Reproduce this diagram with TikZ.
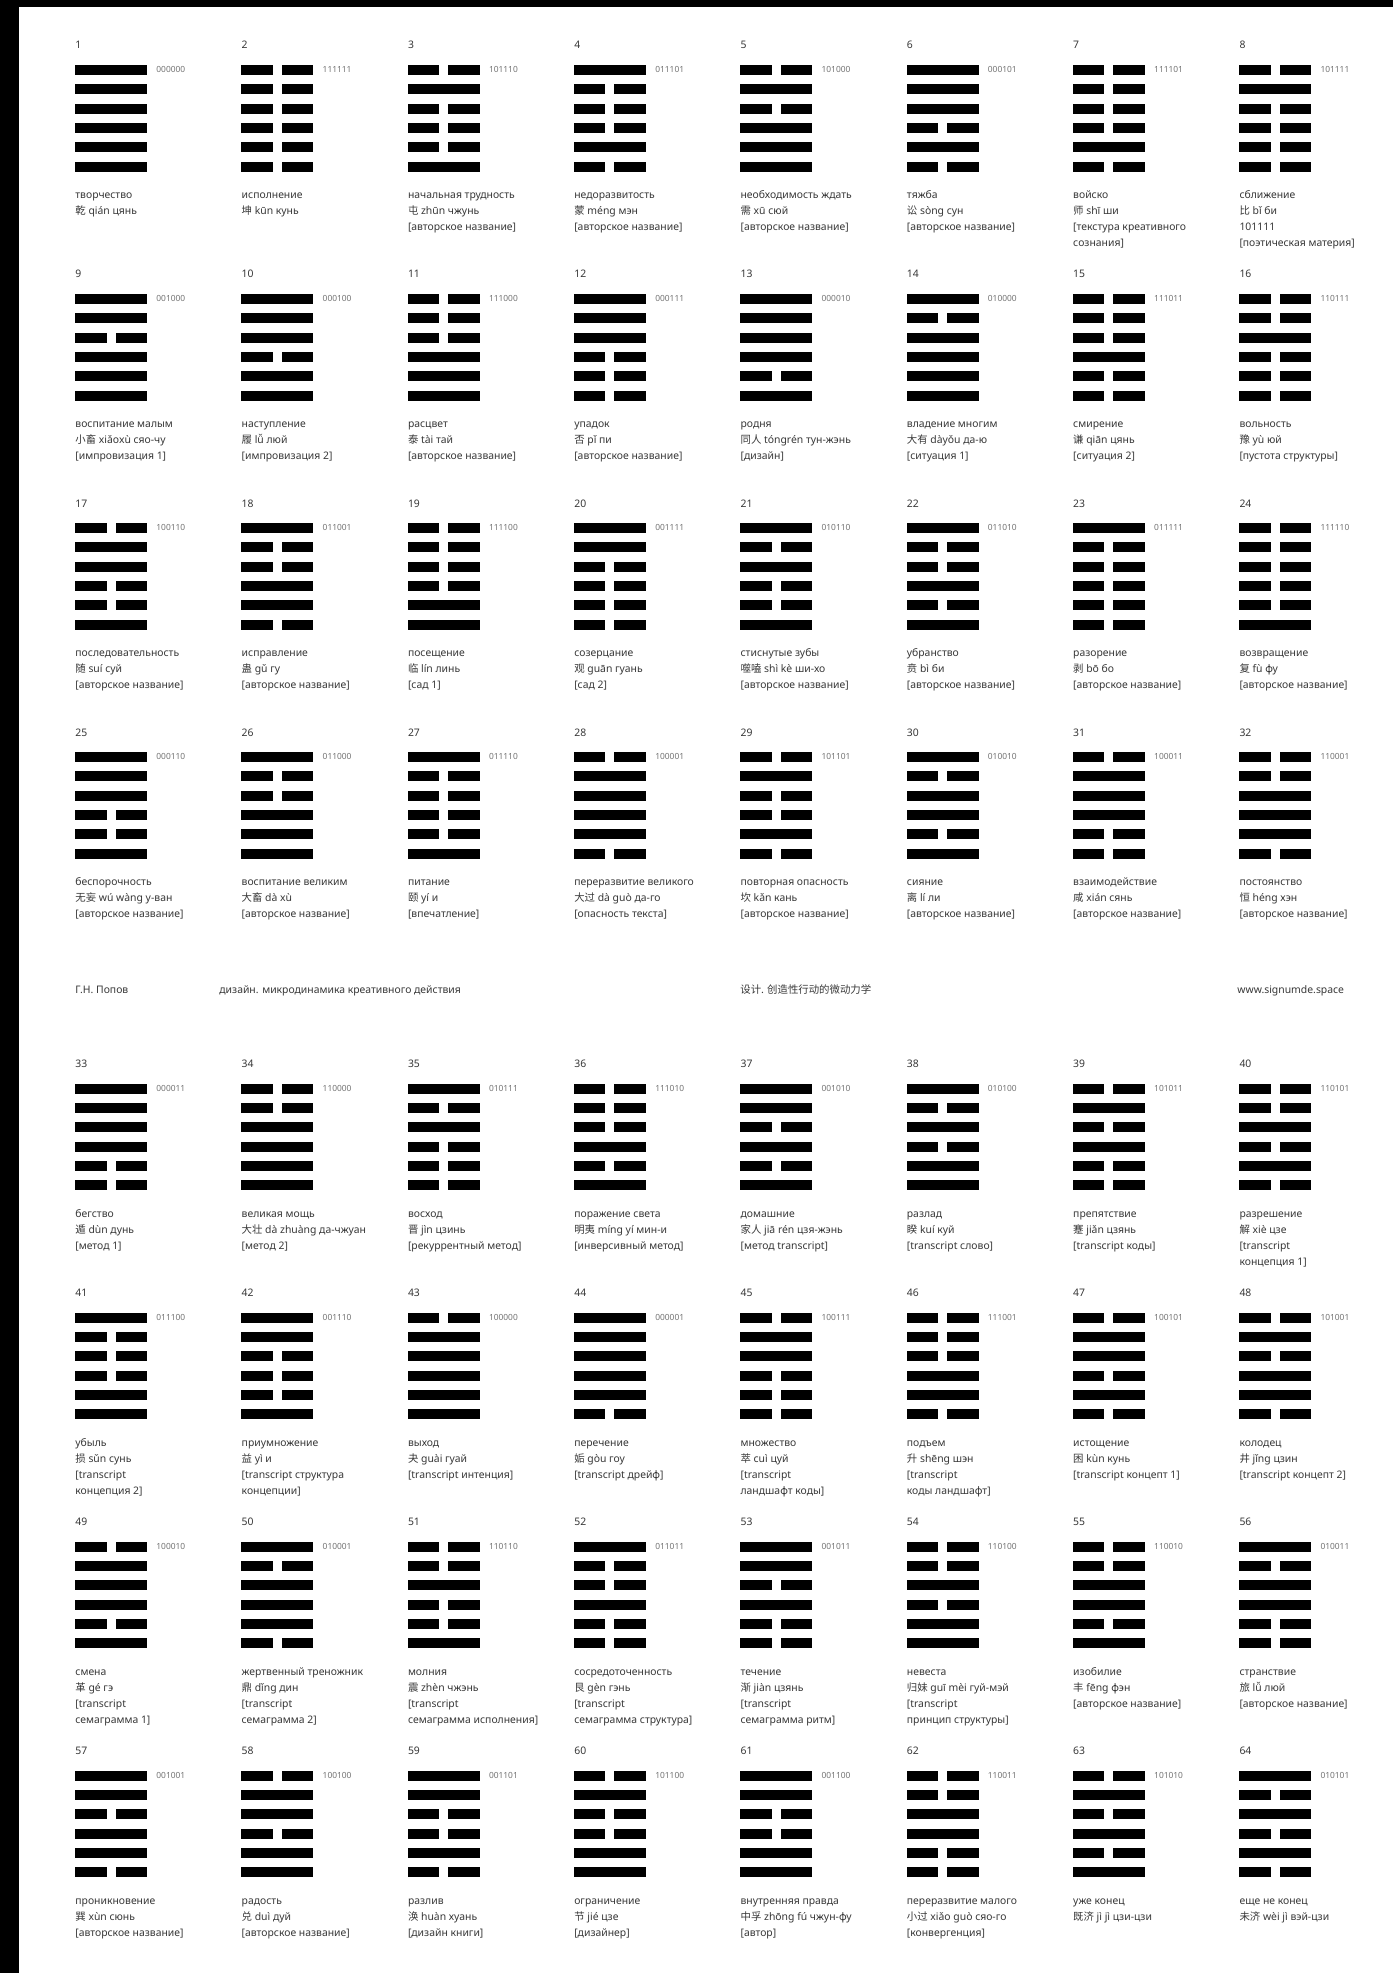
\documentclass[tikz,border=0pt]{standalone}
\usepackage{fontspec}
\setmainfont{Noto Sans}
\newfontfamily\cjkfont{Noto Sans CJK SC}
\newcommand\zh[1]{{\cjkfont #1}}
\tikzset{
  desc/.style={font=\fontsize{5.2pt}{7pt}\selectfont, text=black!78, inner sep=0pt, anchor=base west},
  numlab/.style={desc},
  codelab/.style={font=\fontsize{4.2pt}{5pt}\selectfont, text=black!55, inner sep=0pt, anchor=base west},
  hexfill/.style={fill=black},
}
\newcommand\hxl[2]{%
  \pgfmathsetmacro\hxLY{\hxY+23.5+19.33*#1}%
  \ifnum#2=0
    \fill[hexfill] (\hxX,\hxLY-5) rectangle ++(72,10);
  \else
    \fill[hexfill] (\hxX,\hxLY-5) rectangle ++(31.5,10);
    \fill[hexfill] (\hxX+40.5,\hxLY-5) rectangle ++(31.5,10);
  \fi}
\newcommand\hxlines[6]{\hxl{0}{#1}\hxl{1}{#2}\hxl{2}{#3}\hxl{3}{#4}\hxl{4}{#5}\hxl{5}{#6}}
\newcommand\hx[5]{%
  \pgfmathsetmacro\hxX{75+166.3*(#1-1)}%
  \pgfmathsetmacro\hxY{(#2<5) ? (46.5+229*(#2-1)) : (1065+229*(#2-5))}%
  \node[numlab] (n#3) at (\hxX,\hxY+2.5) {#3};
  \hxlines#4
  \node[codelab] (c#3) at (\hxX+81,\hxY+26) {#4};
  \foreach \tline [count=\i from 0] in {#5} {
    \node[desc] (t#3-\i) at (\hxX,\hxY+152+16*\i) {\tline};
  }
}
\begin{document}
\begin{tikzpicture}[x=0.5pt,y=-0.5pt]
\useasboundingbox (0,0) rectangle (1393,1973);
\fill[white] (0,0) rectangle (1393,1973);
\fill[black] (0,0) rectangle (1393,7);
\fill[black] (0,0) rectangle (19,1973);
% row 1
\hx{1}{1}{1}{000000}{творчество, \zh{乾} qián цянь}
\hx{2}{1}{2}{111111}{исполнение, \zh{坤} kūn кунь}
\hx{3}{1}{3}{101110}{начальная трудность, \zh{屯} zhūn чжунь, [авторское название]}
\hx{4}{1}{4}{011101}{недоразвитость, \zh{蒙} méng мэн, [авторское название]}
\hx{5}{1}{5}{101000}{необходимость ждать, \zh{需} xū сюй, [авторское название]}
\hx{6}{1}{6}{000101}{тяжба, \zh{讼} sòng сун, [авторское название]}
\hx{7}{1}{7}{111101}{войско, \zh{师} shī ши, [текстура креативного, сознания]}
\hx{8}{1}{8}{101111}{сближение, \zh{比} bǐ би, 101111, [поэтическая материя]}
% row 2
\hx{1}{2}{9}{001000}{воспитание малым, \zh{小畜} xiǎoxù сяо-чу, [импровизация 1]}
\hx{2}{2}{10}{000100}{наступление, \zh{履} lǚ люй, [импровизация 2]}
\hx{3}{2}{11}{111000}{расцвет, \zh{泰} tài тай, [авторское название]}
\hx{4}{2}{12}{000111}{упадок, \zh{否} pǐ пи, [авторское название]}
\hx{5}{2}{13}{000010}{родня, \zh{同人} tóngrén тун-жэнь, [дизайн]}
\hx{6}{2}{14}{010000}{владение многим, \zh{大有} dàyǒu да-ю, [ситуация 1]}
\hx{7}{2}{15}{111011}{смирение, \zh{谦} qiān цянь, [ситуация 2]}
\hx{8}{2}{16}{110111}{вольность, \zh{豫} yù юй, [пустота структуры]}
% row 3
\hx{1}{3}{17}{100110}{последовательность, \zh{随} suí суй, [авторское название]}
\hx{2}{3}{18}{011001}{исправление, \zh{蛊} gǔ гу, [авторское название]}
\hx{3}{3}{19}{111100}{посещение, \zh{临} lín линь, [сад 1]}
\hx{4}{3}{20}{001111}{созерцание, \zh{观} guān гуань, [сад 2]}
\hx{5}{3}{21}{010110}{стиснутые зубы, \zh{噬嗑} shì kè ши-хо, [авторское название]}
\hx{6}{3}{22}{011010}{убранство, \zh{贲} bì би, [авторское название]}
\hx{7}{3}{23}{011111}{разорение, \zh{剥} bō бо, [авторское название]}
\hx{8}{3}{24}{111110}{возвращение, \zh{复} fù фу, [авторское название]}
% row 4
\hx{1}{4}{25}{000110}{беспорочность, \zh{无妄} wú wàng у-ван, [авторское название]}
\hx{2}{4}{26}{011000}{воспитание великим, \zh{大畜} dà xù, [авторское название]}
\hx{3}{4}{27}{011110}{питание, \zh{颐} yí и, [впечатление]}
\hx{4}{4}{28}{100001}{переразвитие великого, \zh{大过} dà guò да-го, [опасность текста]}
\hx{5}{4}{29}{101101}{повторная опасность, \zh{坎} kǎn кань, [авторское название]}
\hx{6}{4}{30}{010010}{сияние, \zh{离} lí ли, [авторское название]}
\hx{7}{4}{31}{100011}{взаимодействие, \zh{咸} xián сянь, [авторское название]}
\hx{8}{4}{32}{110001}{постоянство, \zh{恒} héng хэн, [авторское название]}
% footer
\node[desc] (f1) at (75,993) {Г.Н. Попов};
\node[desc] (f2) at (219,993) {дизайн. микродинамика креативного действия};
\node[desc] (f3) at (740,993) {\zh{设计. 创造性行动的微动力学}};
\node[desc] (f4) at (1237,993) {www.signumde.space};
% row 5
\hx{1}{5}{33}{000011}{бегство, \zh{遁} dùn дунь, [метод 1]}
\hx{2}{5}{34}{110000}{великая мощь, \zh{大壮} dà zhuàng да-чжуан, [метод 2]}
\hx{3}{5}{35}{010111}{восход, \zh{晋} jìn цзинь, [рекуррентный метод]}
\hx{4}{5}{36}{111010}{поражение света, \zh{明夷} míng yí мин-и, [инверсивный метод]}
\hx{5}{5}{37}{001010}{домашние, \zh{家人} jiā rén цзя-жэнь, [метод transcript]}
\hx{6}{5}{38}{010100}{разлад, \zh{睽} kuí куй, [transcript слово]}
\hx{7}{5}{39}{101011}{препятствие, \zh{蹇} jiǎn цзянь, [transcript коды]}
\hx{8}{5}{40}{110101}{разрешение, \zh{解} xiè цзе, [transcript, концепция 1]}
% row 6
\hx{1}{6}{41}{011100}{убыль, \zh{损} sǔn сунь, [transcript, концепция 2]}
\hx{2}{6}{42}{001110}{приумножение, \zh{益} yì и, [transcript структура, концепции]}
\hx{3}{6}{43}{100000}{выход, \zh{夬} guài гуай, [transcript интенция]}
\hx{4}{6}{44}{000001}{перечение, \zh{姤} gòu гоу, [transcript дрейф]}
\hx{5}{6}{45}{100111}{множество, \zh{萃} cuì цуй, [transcript, ландшафт коды]}
\hx{6}{6}{46}{111001}{подъем, \zh{升} shēng шэн, [transcript, коды ландшафт]}
\hx{7}{6}{47}{100101}{истощение, \zh{困} kùn кунь, [transcript концепт 1]}
\hx{8}{6}{48}{101001}{колодец, \zh{井} jǐng цзин, [transcript концепт 2]}
% row 7
\hx{1}{7}{49}{100010}{смена, \zh{革} gé гэ, [transcript, семаграмма 1]}
\hx{2}{7}{50}{010001}{жертвенный треножник, \zh{鼎} dǐng дин, [transcript, семаграмма 2]}
\hx{3}{7}{51}{110110}{молния, \zh{震} zhèn чжэнь, [transcript, семаграмма исполнения]}
\hx{4}{7}{52}{011011}{сосредоточенность, \zh{艮} gèn гэнь, [transcript, семаграмма структура]}
\hx{5}{7}{53}{001011}{течение, \zh{渐} jiàn цзянь, [transcript, семаграмма ритм]}
\hx{6}{7}{54}{110100}{невеста, \zh{归妹} guī mèi гуй-мэй, [transcript, принцип структуры]}
\hx{7}{7}{55}{110010}{изобилие, \zh{丰} fēng фэн, [авторское название]}
\hx{8}{7}{56}{010011}{странствие, \zh{旅} lǚ люй, [авторское название]}
% row 8
\hx{1}{8}{57}{001001}{проникновение, \zh{巽} xùn сюнь, [авторское название]}
\hx{2}{8}{58}{100100}{радость, \zh{兑} duì дуй, [авторское название]}
\hx{3}{8}{59}{001101}{разлив, \zh{涣} huàn хуань, [дизайн книги]}
\hx{4}{8}{60}{101100}{ограничение, \zh{节} jié цзе, [дизайнер]}
\hx{5}{8}{61}{001100}{внутренняя правда, \zh{中孚} zhōng fú чжун-фу, [автор]}
\hx{6}{8}{62}{110011}{переразвитие малого, \zh{小过} xiǎo guò сяо-го, [конвергенция]}
\hx{7}{8}{63}{101010}{уже конец, \zh{既济} jì jì цзи-цзи}
\hx{8}{8}{64}{010101}{еще не конец, \zh{未济} wèi jì вэй-цзи}
\end{tikzpicture}
\end{document}
